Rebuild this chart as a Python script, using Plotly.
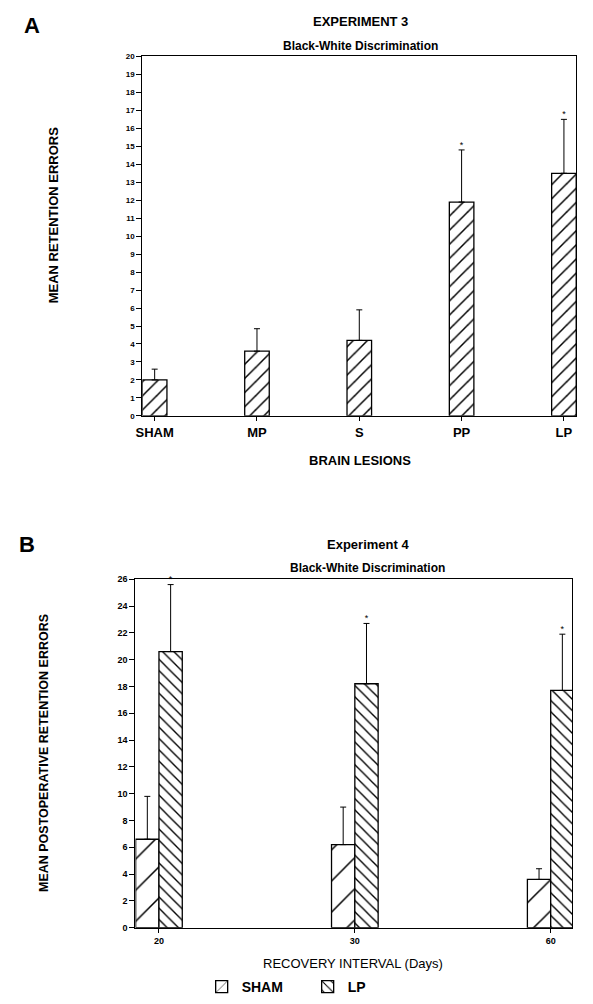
import plotly.graph_objects as go

# ---- Data: Experiment 3 (panel A) ----
lesions = ["SHAM", "MP", "S", "PP", "LP"]
a_means = [2.0, 3.6, 4.2, 11.9, 13.5]
a_errs = [0.6, 1.25, 1.7, 2.9, 3.0]
a_sig = ["", "", "", "*", "*"]

# ---- Data: Experiment 4 (panel B) ----
intervals = ["20", "30", "60"]
sham_means = [6.6, 6.2, 3.6]
sham_errs = [3.2, 2.8, 0.8]
lp_means = [20.6, 18.2, 17.7]
lp_errs = [5.0, 4.5, 4.2]
lp_sig = ["*", "*", "*"]

a_yticks = list(range(0, 21))
b_yticks = list(range(0, 27, 2))

FONT = "Liberation Sans, Arial, Helvetica, sans-serif"
W, H = 593, 1004
BW_A = 0.24     # bar width, panel A (category units)
BW_B = 0.119    # bar width, panel B

a_pos = list(range(len(lesions)))
b_pos = list(range(len(intervals)))

fig = go.Figure()

hatch_line = dict(color="black", width=1.3)

# Panel A bars
fig.add_trace(go.Bar(
    x=a_pos, y=a_means, width=BW_A, xaxis="x", yaxis="y",
    marker=dict(color="white", line=hatch_line,
                pattern=dict(shape="/", size=10, solidity=0.15,
                             fgcolor="black", bgcolor="white",
                             fgopacity=1)),
    error_y=dict(type="data", symmetric=False, array=a_errs,
                 arrayminus=[0] * len(a_errs), color="black",
                 thickness=1, width=3),
    showlegend=False, hoverinfo="skip"))
fig.add_trace(go.Scatter(
    x=a_pos, y=[m + e for m, e in zip(a_means, a_errs)], text=a_sig,
    mode="text", textposition="top center", xaxis="x", yaxis="y",
    textfont=dict(family=FONT, size=9, color="black"),
    showlegend=False, hoverinfo="skip", cliponaxis=False))

# Panel B bars
fig.add_trace(go.Bar(
    x=b_pos, y=sham_means, width=BW_B, offset=-BW_B,
    xaxis="x2", yaxis="y2", name="SHAM",
    marker=dict(color="white", line=hatch_line,
                pattern=dict(shape="/", size=22, solidity=0.07,
                             fgcolor="black", bgcolor="white",
                             fgopacity=1)),
    error_y=dict(type="data", symmetric=False, array=sham_errs,
                 arrayminus=[0] * len(sham_errs), color="black",
                 thickness=1, width=3),
    hoverinfo="skip"))
fig.add_trace(go.Bar(
    x=b_pos, y=lp_means, width=BW_B, offset=0,
    xaxis="x2", yaxis="y2", name="LP",
    marker=dict(color="white", line=hatch_line,
                pattern=dict(shape="\\", size=8, solidity=0.17,
                             fgcolor="black", bgcolor="white",
                             fgopacity=1)),
    error_y=dict(type="data", symmetric=False, array=lp_errs,
                 arrayminus=[0] * len(lp_errs), color="black",
                 thickness=1, width=3),
    hoverinfo="skip"))
fig.add_trace(go.Scatter(
    x=[p + BW_B / 2 for p in b_pos],
    y=[m + e for m, e in zip(lp_means, lp_errs)], text=lp_sig,
    mode="text", textposition="top center", xaxis="x2", yaxis="y2",
    textfont=dict(family=FONT, size=9, color="black"),
    showlegend=False, hoverinfo="skip", cliponaxis=False))


def px_x(p):
    return p / W


def px_y(p):
    return 1 - p / H


axis_common = dict(showline=True, linecolor="black", linewidth=1.2,
                   mirror=True, showgrid=False, zeroline=False,
                   ticks="outside", tickcolor="black")

fig.update_layout(
    width=W, height=H, margin=dict(l=0, r=0, t=0, b=0),
    paper_bgcolor="white", plot_bgcolor="white",
    font=dict(family=FONT, color="black"),
    barmode="overlay",
    xaxis=dict(axis_common, domain=[px_x(137), px_x(576)],
               range=[-0.12, 4.12], ticklen=4,
               tickvals=a_pos, ticktext=lesions,
               tickfont=dict(size=13, weight="bold"), anchor="y"),
    yaxis=dict(axis_common, domain=[px_y(415), px_y(52)], range=[0, 20],
               tickvals=a_yticks, ticklen=5,
               tickfont=dict(size=8, weight="bold"), anchor="x"),
    xaxis2=dict(axis_common, domain=[px_x(130), px_x(572)],
                range=[-0.12, 2.11], ticklen=4,
                tickvals=b_pos, ticktext=intervals,
                tickfont=dict(size=9, weight="bold"), anchor="y2"),
    yaxis2=dict(axis_common, domain=[px_y(932), px_y(580)], range=[0, 26],
                tickvals=b_yticks, ticklen=5,
                tickfont=dict(size=9, weight="bold"), anchor="x2"),
    legend=dict(orientation="h", x=px_x(197), y=px_y(992), yanchor="middle",
                xanchor="left", font=dict(size=14, weight="bold"),
                itemwidth=30, entrywidth=61, traceorder="normal"),
)

ann = []


def add(text, x, y, size, bold=True, angle=0):
    ann.append(dict(text=text, x=px_x(x), y=px_y(y), xref="paper",
                    yref="paper", showarrow=False, textangle=angle,
                    xanchor="center", yanchor="middle",
                    font=dict(size=size, weight="bold" if bold else "normal",
                              family=FONT, color="black")))


add("A", 25, 21, 22)
add("EXPERIMENT 3", 358, 17, 13)
add("Black-White Discrimination", 358, 41, 12)
add("MEAN RETENTION ERRORS", 47, 212, 13, angle=-90)
add("BRAIN LESIONS", 357, 460, 13)

add("B", 20, 545, 22)
add("Experiment 4", 365, 545, 13)
add("Black-White Discrimination", 365, 569, 12)
add("MEAN POSTOPERATIVE RETENTION ERRORS", 38, 756, 12.5, angle=-90)
add("RECOVERY INTERVAL (Days)", 350, 968, 13, bold=False)

fig.update_layout(annotations=ann)

fig.write_html("out.html",
               config={"displayModeBar": False},
               post_script="document.body.style.margin='0';"
                           "document.body.style.overflow='hidden';")
